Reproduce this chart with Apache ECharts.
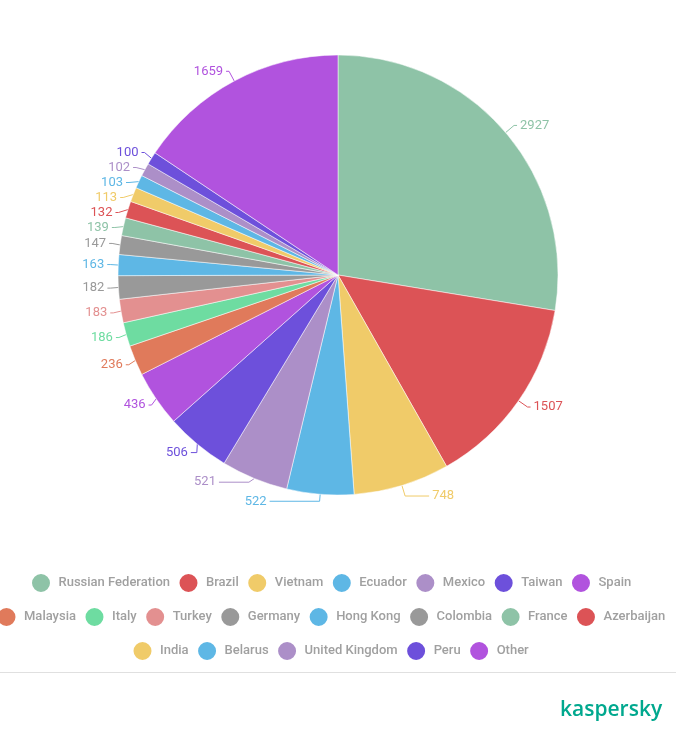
<!DOCTYPE html>
<html>
<head>
<meta charset="utf-8">
<script src="https://cdn.jsdelivr.net/npm/echarts@6/dist/echarts.min.js"></script>
<style>html,body{margin:0;padding:0;background:#fff;}#c{width:676px;height:749px;}</style>
</head>
<body>
<div id="c"></div>
<script>
var countries = ["Russian Federation","Brazil","Vietnam","Ecuador","Mexico","Taiwan","Spain","Malaysia","Italy","Turkey","Germany","Hong Kong","Colombia","France","Azerbaijan","India","Belarus","United Kingdom","Peru","Other"];
var values = [2927,1507,748,522,521,506,436,236,186,183,182,163,147,139,132,113,103,102,100,1659];
var palette = ["#8ec3a7","#dc5356","#f0cb69","#5eb7e5","#ac8fc8","#6d50db","#b153de","#e07a5b","#6edca1","#e39090","#999999","#5eb7e5","#999999","#8ec3a7","#dc5356","#f0cb69","#5eb7e5","#ac8fc8","#6d50db","#b153de"];
var legendRow1 = countries.slice(0,7);
var legendRow2 = countries.slice(7,15);
var legendRow3 = countries.slice(15);
// label-line segment lengths (style only)
var lineHead = {"Ecuador":7, "Mexico":4};
var lineTail = {"Vietnam":24, "Ecuador":50, "Mexico":30, "Taiwan":6};

var data = countries.map(function(n,i){
  var ll = {lineStyle:{color:palette[i]}};
  if (lineTail[n] !== undefined) ll.length2 = lineTail[n];
  if (lineHead[n] !== undefined) ll.length = lineHead[n];
  return {name:n, value:values[i], itemStyle:{color:palette[i]}, label:{color:palette[i]}, labelLine:ll};
});

function legend(row, left, top){
  return {
    data: row, left: left, top: top, orient:'horizontal', width: 900, padding:0,
    icon:'circle', itemWidth:25, itemHeight:20, itemGap:7.5,
    textStyle:{color:'#a0a0a0', fontSize:13, fontWeight:500, fontFamily:'Roboto'},
    selectedMode:false
  };
}

var chart = echarts.init(document.getElementById('c'), null, {renderer:'canvas'});
chart.setOption({
  animation:false,
  textStyle:{fontFamily:'Roboto'},
  legend:[legend(legendRow1,30,572), legend(legendRow2,-4.5,606), legend(legendRow3,131.5,640)],
  series:[{
    type:'pie',
    center:[338,275],
    radius:[0,220],
    startAngle:90,
    clockwise:true,
    avoidLabelOverlap:true,
    minShowLabelAngle:0,
    itemStyle:{borderColor:'#ffffff', borderWidth:0.5},
    label:{show:true, position:'outside', formatter:'{c}', fontSize:13, fontFamily:'Roboto', distanceToLabelLine:3},
    labelLine:{show:true, length:11, length2:3, lineStyle:{width:1}},
    emphasis:{disabled:true},
    data:data
  }],
  graphic:[
    {type:'line', shape:{x1:0,y1:672.5,x2:676,y2:672.5}, style:{stroke:'#e0e0e0', lineWidth:1}},
    {type:'text', left:560, top:700, style:{text:'kaspersky', fill:'#00a88e', font:'600 21px "Open Sans"'}}
  ]
});
</script>
</body>
</html>
